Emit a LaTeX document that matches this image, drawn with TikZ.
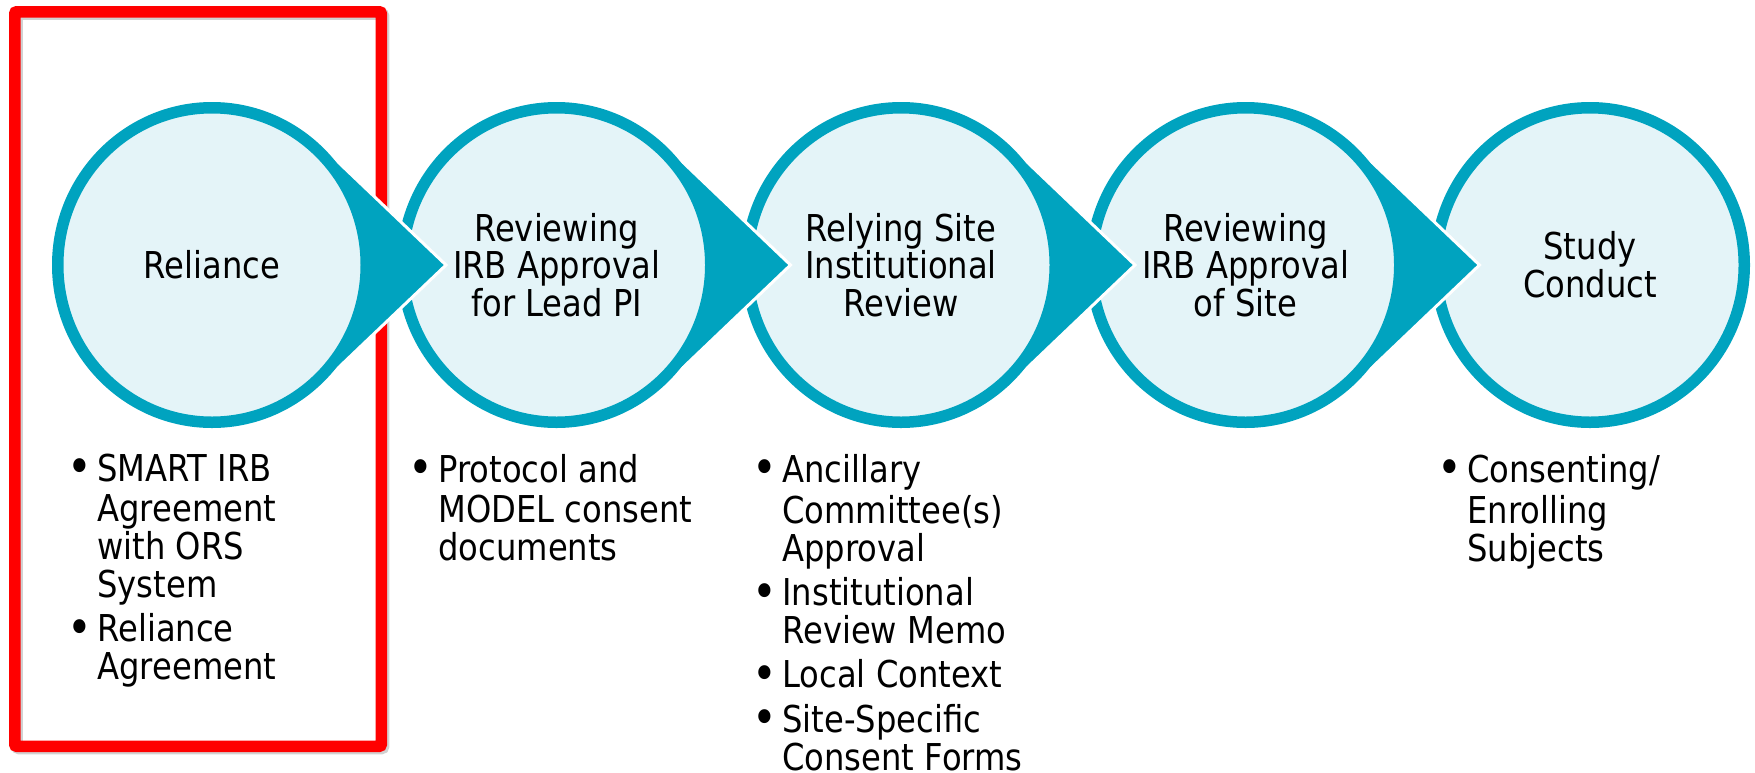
\documentclass[tikz,border=0pt]{standalone}
\usepackage{graphicx}
\usepackage{fontspec}
\setmainfont{DejaVu Sans}[FakeStretch=0.87]
\usetikzlibrary{shapes.geometric}
\definecolor{stepteal}{RGB}{0,163,191}
\definecolor{steplight}{RGB}{228,244,248}
\definecolor{boxred}{RGB}{255,0,0}
\newcommand{\bul}{\llap{\raisebox{-1.2pt}{\scalebox{1.3}{\textbullet}}\hspace{2.6pt}}}

\begin{document}
\begin{tikzpicture}[x=0.5pt, y=0.5pt,
    txt/.style = {font=\fontsize{18.5}{18.9}\selectfont},
    stepnode/.style = {txt, ellipse, draw=stepteal, fill=steplight, line width=5.75pt,
      minimum width=154.25pt, minimum height=157.25pt, inner sep=0pt, align=center},
    pointer/.style = {fill=stepteal},
    pointeredge/.style = {draw=white, line width=1.5pt},
    list/.style = {txt, align=left, anchor=north west, inner sep=0pt}]

  \useasboundingbox (0,0) rectangle (1755,-772);

  % red frame round the first step
  \draw[black, opacity=0.18, line width=5.75pt, rounded corners=1pt] (17,-14) rectangle (383.5,-748.5);
  \draw[boxred, line width=5.75pt, rounded corners=1pt] (14.75,-11.75) rectangle (381.25,-746.25);

  \coordinate (c1) at (212,-265);
  \coordinate (c2) at (556.5,-265);
  \coordinate (c3) at (901,-265);
  \coordinate (c4) at (1245.5,-265);
  \coordinate (c5) at (1590,-265);

  % steps from right to left, each pointer lies on the next circle
  \node[stepnode] (s5) at (c5) {Study\\Conduct};

  \fill[pointer] ([shift={(109.4,118.9)}]c4) -- ([shift={(234,0)}]c4) -- ([shift={(109.4,-118.9)}]c4) -- cycle;
  \draw[pointeredge] ([shift={(109.4,118.9)}]c4) -- ([shift={(234,0)}]c4) -- ([shift={(109.4,-118.9)}]c4);
  \node[stepnode] (s4) at (c4) {Reviewing\\IRB Approval\\of Site};

  \fill[pointer] ([shift={(109.4,118.9)}]c3) -- ([shift={(234,0)}]c3) -- ([shift={(109.4,-118.9)}]c3) -- cycle;
  \draw[pointeredge] ([shift={(109.4,118.9)}]c3) -- ([shift={(234,0)}]c3) -- ([shift={(109.4,-118.9)}]c3);
  \node[stepnode] (s3) at (c3) {Relying Site\\Institutional\\Review};

  \fill[pointer] ([shift={(109.4,118.9)}]c2) -- ([shift={(234,0)}]c2) -- ([shift={(109.4,-118.9)}]c2) -- cycle;
  \draw[pointeredge] ([shift={(109.4,118.9)}]c2) -- ([shift={(234,0)}]c2) -- ([shift={(109.4,-118.9)}]c2);
  \node[stepnode] (s2) at (c2) {Reviewing\\IRB Approval\\for Lead PI};

  \fill[pointer] ([shift={(109.4,118.9)}]c1) -- ([shift={(234,0)}]c1) -- ([shift={(109.4,-118.9)}]c1) -- cycle;
  \draw[pointeredge] ([shift={(109.4,118.9)}]c1) -- ([shift={(234,0)}]c1) -- ([shift={(109.4,-118.9)}]c1);
  \node[stepnode] (s1) at (c1) {Reliance};

  % bullet lists under the steps
  \node[list] (l1) at (97,-453.5) {\bul\strut SMART IRB\\Agreement\\with ORS\\System\\[3.3pt]\bul Reliance\\Agreement};
  \node[list] (l2) at (438,-453.5) {\bul\strut Protocol and\\MODEL consent\\documents};
  \node[list] (l3) at (782,-453.5) {\bul\strut Ancillary\\Committee(s)\\Approval\\[3.3pt]\bul Institutional\\Review Memo\\[3.3pt]\bul Local Context\\[3.3pt]\bul Site-Specific\\Consent Forms};
  \node[list] (l5) at (1467,-453.5) {\bul\strut Consenting/\\Enrolling\\Subjects};
\end{tikzpicture}
\end{document}
